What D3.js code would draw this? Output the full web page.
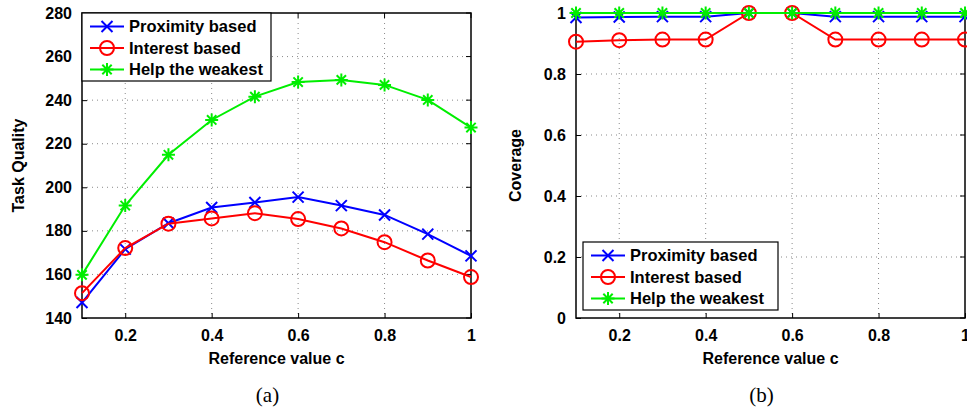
<!DOCTYPE html>
<html><head><meta charset="utf-8">
<script src="https://cdn.jsdelivr.net/npm/d3@7"></script>
<style>body{margin:0;background:#fff}svg{display:block}</style>
</head><body><svg id="c" width="967" height="410"></svg>
<script>
const refValues = [0.1,0.2,0.3,0.4,0.5,0.6,0.7,0.8,0.9,1.0];
const seriesNames = ["Proximity based","Interest based","Help the weakest"];
const qualityProximity = [147.1,171.6,183.5,190.7,193.0,195.5,191.6,187.3,178.5,168.5];
const qualityInterest  = [151.4,172.1,183.3,185.7,188.1,185.4,181.1,174.8,166.4,158.8];
const qualityWeakest   = [159.8,191.6,214.9,230.9,241.6,248.3,249.3,247.0,240.1,227.4];
const coverageProximity = [0.985,0.987,0.988,0.988,1.0,1.0,0.988,0.988,0.988,0.988];
const coverageInterest  = [0.906,0.911,0.913,0.913,1.0,1.0,0.913,0.913,0.913,0.913];
const coverageWeakest   = [1,1,1,1,1,1,1,1,1,1];
const xTicks = [0.2,0.4,0.6,0.8,1];
const qualityTicks = [140,160,180,200,220,240,260,280];
const coverageTicks = [0,0.2,0.4,0.6,0.8,1];

const colors = ["#0000ff","#ff0000","#00ee00"];
const markers = ["x","o","*"];
const svg = d3.select("#c");
const FONT = "Liberation Sans, Arial, sans-serif";

function marker(g, type, color, x, y){
  if(type==="x"){
    const s=5.5;
    g.append("path").attr("d",`M${x-s},${y-s}L${x+s},${y+s}M${x-s},${y+s}L${x+s},${y-s}`)
      .attr("stroke",color).attr("stroke-width",2).attr("fill","none");
  } else if(type==="o"){
    g.append("circle").attr("cx",x).attr("cy",y).attr("r",7)
      .attr("stroke",color).attr("stroke-width",2).attr("fill","none");
  } else {
    const s=6.5, d=s*0.72;
    g.append("path").attr("d",`M${x},${y-s}L${x},${y+s}M${x-s},${y}L${x+s},${y}M${x-d},${y-d}L${x+d},${y+d}M${x-d},${y+d}L${x+d},${y-d}`)
      .attr("stroke",color).attr("stroke-width",2).attr("fill","none");
  }
}

function panel(opt){
  const {x0,x1,y0,y1,yDomain,yTicks,yFmt,series,ylabel,legend,caption,ylabelX} = opt;
  const g = svg.append("g");
  const x = d3.scaleLinear().domain([0.1,1]).range([x0,x1]);
  const y = d3.scaleLinear().domain(yDomain).range([y1,y0]);
  const grid = g.append("g").attr("stroke","#8a8a8a").attr("stroke-width",1).attr("stroke-dasharray","1,4");
  xTicks.filter(t=>t<1).forEach(t=>grid.append("line").attr("x1",x(t)).attr("x2",x(t)).attr("y1",y0).attr("y2",y1));
  yTicks.filter(t=>t>yDomain[0]&&t<yDomain[1]).forEach(t=>grid.append("line").attr("x1",x0).attr("x2",x1).attr("y1",y(t)).attr("y2",y(t)));
  const ax = g.append("g").attr("transform",`translate(0,${y1})`)
    .call(d3.axisBottom(x).tickValues(xTicks).tickSizeInner(-5).tickSizeOuter(0).tickPadding(12).tickFormat(d3.format("")));
  const ay = g.append("g").attr("transform",`translate(${x0},0)`)
    .call(d3.axisLeft(y).tickValues(yTicks).tickSizeInner(-5).tickSizeOuter(0).tickPadding(10).tickFormat(yFmt));
  [ax,ay].forEach(a=>{
    a.select(".domain").remove();
    a.selectAll("text").attr("font-family",FONT).attr("font-weight","bold").attr("font-size","16px").attr("fill","#000");
    a.selectAll("line").attr("stroke","#000");
  });
  xTicks.forEach(t=>g.append("line").attr("x1",x(t)).attr("x2",x(t)).attr("y1",y0).attr("y2",y0+5).attr("stroke","#000"));
  yTicks.forEach(t=>g.append("line").attr("x1",x1).attr("x2",x1-5).attr("y1",y(t)).attr("y2",y(t)).attr("stroke","#000"));
  g.append("rect").attr("x",x0).attr("y",y0).attr("width",x1-x0).attr("height",y1-y0)
    .attr("fill","none").attr("stroke","#000").attr("stroke-width",1.5);
  series.forEach((vals,i)=>{
    const pts = refValues.map((r,j)=>[x(r),y(vals[j])]);
    g.append("path").attr("d",d3.line()(pts)).attr("fill","none").attr("stroke",colors[i]).attr("stroke-width",2);
    pts.forEach(p=>marker(g,markers[i],colors[i],p[0],p[1]));
  });
  g.append("text").attr("x",(x0+x1)/2).attr("y",y1+46).attr("text-anchor","middle")
    .attr("font-family",FONT).attr("font-weight","bold").attr("font-size","16px").text("Reference value c");
  g.append("text").attr("transform",`translate(${ylabelX},${(y0+y1)/2}) rotate(-90)`).attr("text-anchor","middle")
    .attr("font-family",FONT).attr("font-weight","bold").attr("font-size","16px").text(ylabel);
  g.append("text").attr("x",(x0+x1)/2-9).attr("y",402).attr("text-anchor","middle")
    .attr("font-family","Liberation Serif, DejaVu Serif, serif").attr("font-size","21px").text(caption);
  const L = g.append("g");
  L.append("rect").attr("x",legend.x).attr("y",legend.y).attr("width",legend.w).attr("height",legend.h)
    .attr("fill","#fff").attr("stroke","#000").attr("stroke-width",1.2);
  seriesNames.forEach((n,i)=>{
    const yy = legend.y + 13.5 + i*21.5;
    L.append("line").attr("x1",legend.x+8).attr("x2",legend.x+42).attr("y1",yy).attr("y2",yy).attr("stroke",colors[i]).attr("stroke-width",2);
    marker(L,markers[i],colors[i],legend.x+25,yy);
    L.append("text").attr("x",legend.x+47).attr("y",yy+5.5).attr("font-family",FONT).attr("font-weight","bold")
      .attr("font-size","16.5px").text(n);
  });
}

panel({x0:82,x1:471,y0:13,y1:318,yDomain:[140,280],yTicks:qualityTicks,yFmt:d3.format("d"),
  series:[qualityProximity,qualityInterest,qualityWeakest],ylabel:"Task Quality",ylabelX:24,
  legend:{x:82,y:13,w:189,h:68},caption:"(a)"});
panel({x0:576,x1:965,y0:13,y1:318,yDomain:[0,1],yTicks:coverageTicks,yFmt:d=>d3.format("")(+d.toFixed(1)),
  series:[coverageProximity,coverageInterest,coverageWeakest],ylabel:"Coverage",ylabelX:521,
  legend:{x:583,y:242,w:195,h:68},caption:"(b)"});
</script></body></html>
